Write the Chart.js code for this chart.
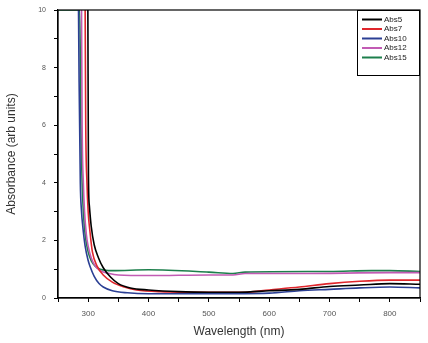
<!DOCTYPE html>
<html>
<head>
<meta charset="utf-8">
<script src="https://cdn.jsdelivr.net/npm/chart.js@4.4.1/dist/chart.umd.min.js"></script>
<style>
  body { margin: 0; background: #fff; }
  #grafico { display: block; }
</style>
</head>
<body>
<canvas id="grafico" width="428" height="343"></canvas>
<script>
// espectros de absorbancia (longitud de onda en nm, absorbancia)
var nombres = ['Abs5', 'Abs7', 'Abs10', 'Abs12', 'Abs15'];
var colores = ['#000000', '#e0262c', '#2b3f94', '#c25bb4', '#1d7f4c'];

var lambdaAbs5 = [299.5, 300.5, 302, 305, 310, 317, 325, 337, 350, 370, 400, 450, 500, 550, 600, 650, 700, 750, 800, 850];
var valoresAbs5 = [10, 4.2, 3.2, 2.5, 1.85, 1.4, 1.05, 0.73, 0.5, 0.35, 0.28, 0.22, 0.2, 0.2, 0.25, 0.3, 0.4, 0.45, 0.5, 0.48];

var lambdaAbs7 = [295, 296, 298, 300, 303, 307, 315, 325, 340, 360, 380, 420, 500, 560, 600, 650, 700, 750, 800, 850];
var valoresAbs7 = [10, 6, 4, 3, 2.3, 1.6, 1.1, 0.8, 0.55, 0.38, 0.28, 0.22, 0.2, 0.2, 0.28, 0.38, 0.5, 0.58, 0.62, 0.62];

var lambdaAbs10 = [284, 285, 287, 289, 291, 295, 300, 303, 310, 318, 325, 340, 365, 400, 500, 600, 650, 700, 750, 800, 850];
var valoresAbs10 = [10, 7.5, 4, 3, 2.5, 1.8, 1.3, 1.1, 0.75, 0.5, 0.38, 0.25, 0.18, 0.15, 0.15, 0.17, 0.25, 0.3, 0.35, 0.38, 0.35];

var lambdaAbs12 = [289, 290, 292, 294, 297, 300, 305, 312, 320, 335, 350, 400, 500, 540, 560, 650, 800, 850];
var valoresAbs12 = [10, 6, 4, 3, 2.2, 1.8, 1.4, 1.1, 0.95, 0.85, 0.8, 0.78, 0.8, 0.8, 0.85, 0.85, 0.88, 0.88];

var lambdaAbs15 = [250, 286, 288, 290, 292, 295, 300, 305, 312, 320, 340, 400, 500, 540, 560, 700, 770, 800, 850];
var valoresAbs15 = [10, 10, 6, 4, 3, 2.2, 1.6, 1.3, 1.1, 1.0, 0.95, 0.98, 0.9, 0.85, 0.9, 0.92, 0.95, 0.95, 0.92];

var lambdas = [lambdaAbs5, lambdaAbs7, lambdaAbs10, lambdaAbs12, lambdaAbs15];
var valores = [valoresAbs5, valoresAbs7, valoresAbs10, valoresAbs12, valoresAbs15];

var xTicksConEtiqueta = [300, 400, 500, 600, 700, 800];
var yTicksConEtiqueta = [0, 2, 4, 6, 8, 10];

function armarPuntos(xs, ys) {
    var puntos = [];
    for (var i = 0; i < xs.length; i++) {
        puntos.push({ x: xs[i], y: ys[i] });
    }
    return puntos;
}

var datasets = [];
for (var i = 0; i < nombres.length; i++) {
    datasets.push({
        label: nombres[i],
        data: armarPuntos(lambdas[i], valores[i]),
        borderColor: colores[i],
        backgroundColor: colores[i],
        borderWidth: 1.6,
        pointRadius: 0,
        cubicInterpolationMode: 'monotone',
        fill: false
    });
}

// marco del grafico y leyenda dibujados a mano
var marcoYLeyenda = {
    id: 'marcoYLeyenda',
    afterDraw: function (chart) {
        var ctx = chart.ctx;
        var a = chart.chartArea;
        ctx.save();
        ctx.strokeStyle = '#000';
        ctx.lineWidth = 1.2;
        ctx.strokeRect(a.left, a.top, a.right - a.left, a.bottom - a.top);

        var lx = 357, ly = a.top, lw = a.right - 357, lh = 66;
        ctx.fillStyle = '#fff';
        ctx.fillRect(lx, ly, lw, lh);
        ctx.lineWidth = 1;
        ctx.strokeStyle = '#000';
        ctx.strokeRect(lx + 0.5, ly + 0.5, lw - 1, lh - 1);
        ctx.font = '8px "Liberation Sans", Arial, sans-serif';
        ctx.textBaseline = 'middle';
        for (var i = 0; i < nombres.length; i++) {
            var yy = ly + 9.5 + i * 9.5;
            ctx.strokeStyle = colores[i];
            ctx.lineWidth = 2;
            ctx.beginPath();
            ctx.moveTo(362, yy);
            ctx.lineTo(382, yy);
            ctx.stroke();
            ctx.fillStyle = '#222';
            ctx.fillText(nombres[i], 384, yy);
        }
        ctx.restore();
    }
};

new Chart(document.getElementById('grafico').getContext('2d'), {
    type: 'line',
    data: { datasets: datasets },
    plugins: [marcoYLeyenda],
    options: {
        responsive: false,
        animation: false,
        layout: { padding: { top: 10, right: 8, left: 0, bottom: 0 } },
        plugins: {
            legend: { display: false },
            tooltip: { enabled: false }
        },
        scales: {
            x: {
                type: 'linear',
                min: 250,
                max: 850,
                afterFit: function (scale) { scale.height = 45; },
                grid: { drawOnChartArea: false, drawTicks: true, tickLength: 4, color: '#000' },
                border: { display: true, color: '#000', width: 1.2 },
                ticks: {
                    stepSize: 50,
                    autoSkip: false,
                    maxRotation: 0,
                    padding: 7,
                    color: '#555',
                    font: { size: 8, family: '"Liberation Sans", Arial, sans-serif' },
                    callback: function (v) { return xTicksConEtiqueta.indexOf(v) >= 0 ? v : ''; }
                },
                title: {
                    display: true,
                    text: 'Wavelength (nm)',
                    color: '#333',
                    padding: { top: 2 },
                    font: { size: 12, family: '"Liberation Sans", Arial, sans-serif' }
                }
            },
            y: {
                min: 0,
                max: 10,
                afterFit: function (scale) {
                    scale.width = 58;
                    scale.paddingTop = 0;
                    scale.paddingBottom = 0;
                },
                grid: { drawOnChartArea: false, drawTicks: true, tickLength: 4, color: '#000' },
                border: { display: true, color: '#000', width: 1.2 },
                ticks: {
                    stepSize: 1,
                    autoSkip: false,
                    padding: 8,
                    color: '#555',
                    font: { size: 7, family: '"Liberation Sans", Arial, sans-serif' },
                    callback: function (v) { return yTicksConEtiqueta.indexOf(v) >= 0 ? v : ''; }
                },
                title: {
                    display: true,
                    text: 'Absorbance (arb units)',
                    color: '#333',
                    padding: { bottom: 4 },
                    font: { size: 12, family: '"Liberation Sans", Arial, sans-serif' }
                }
            }
        }
    }
});
</script>
</body>
</html>
